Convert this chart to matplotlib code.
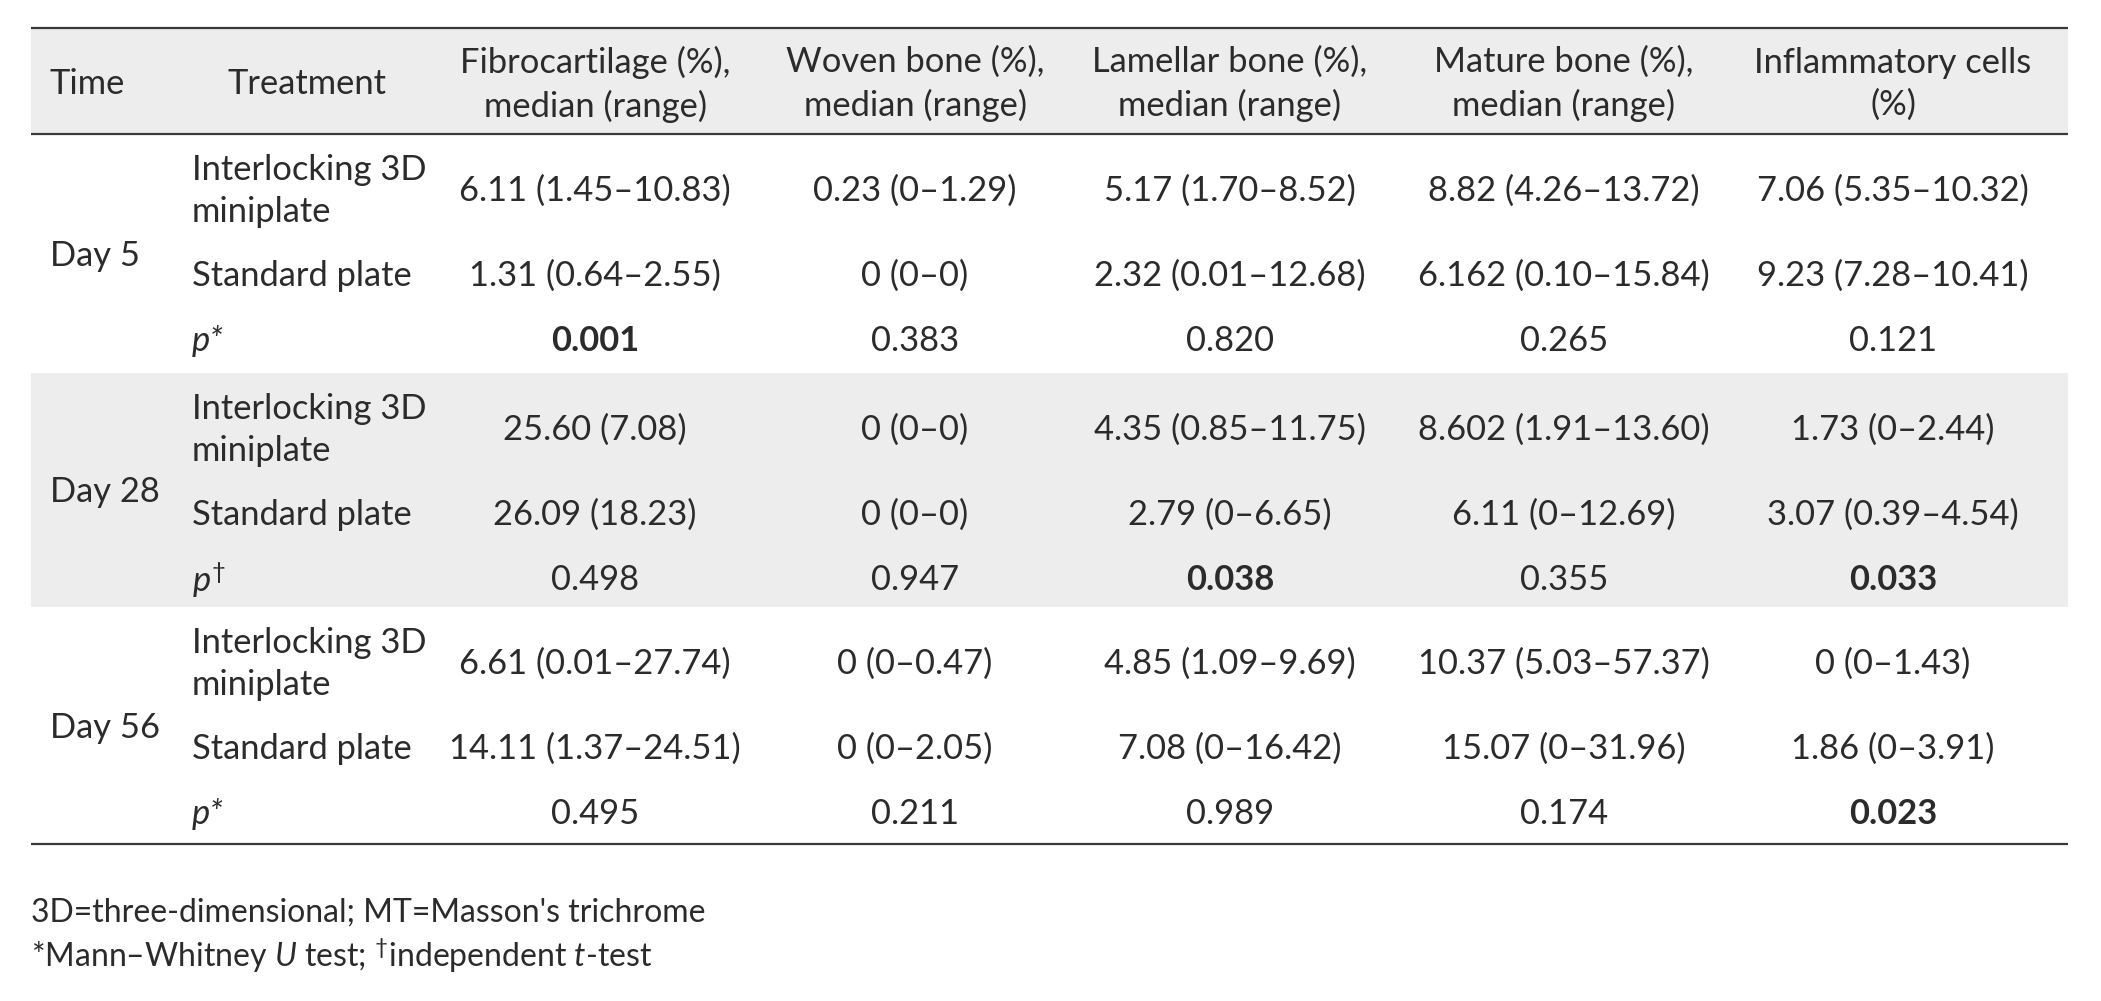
import matplotlib
matplotlib.use("Agg")
import matplotlib.pyplot as plt
from matplotlib.patches import Rectangle

# ---------------- data ----------------
headers = ["Time", "Treatment", "Fibrocartilage (%),\nmedian (range)", "Woven bone (%),\nmedian (range)",
           "Lamellar bone (%),\nmedian (range)", "Mature bone (%),\nmedian (range)", "Inflammatory cells\n(%)"]
times = ["Day 5", "Day 28", "Day 56"]
treatments = ["Interlocking 3D\nminiplate", "Standard plate"]
p_labels = ["p*", "p†", "p*"]

fibrocartilage = ["6.11 (1.45–10.83)", "1.31 (0.64–2.55)", "0.001",
                  "25.60 (7.08)", "26.09 (18.23)", "0.498",
                  "6.61 (0.01–27.74)", "14.11 (1.37–24.51)", "0.495"]
woven_bone = ["0.23 (0–1.29)", "0 (0–0)", "0.383",
              "0 (0–0)", "0 (0–0)", "0.947",
              "0 (0–0.47)", "0 (0–2.05)", "0.211"]
lamellar_bone = ["5.17 (1.70–8.52)", "2.32 (0.01–12.68)", "0.820",
                 "4.35 (0.85–11.75)", "2.79 (0–6.65)", "0.038",
                 "4.85 (1.09–9.69)", "7.08 (0–16.42)", "0.989"]
mature_bone = ["8.82 (4.26–13.72)", "6.162 (0.10–15.84)", "0.265",
               "8.602 (1.91–13.60)", "6.11 (0–12.69)", "0.355",
               "10.37 (5.03–57.37)", "15.07 (0–31.96)", "0.174"]
inflammatory = ["7.06 (5.35–10.32)", "9.23 (7.28–10.41)", "0.121",
                "1.73 (0–2.44)", "3.07 (0.39–4.54)", "0.033",
                "0 (0–1.43)", "1.86 (0–3.91)", "0.023"]
bold_cells = [(2, 0), (5, 2), (5, 4), (8, 4)]  # (row, value column)

footnote1 = "3D=three-dimensional; MT=Masson's trichrome"

# ---------------- layout ----------------
W, H = 2101, 1001
FONT = "Lato"
FS = 24.8
FS_NOTE = 23
TXT = "#2b2b2b"
RULE = "#3a3a3a"
SHADE = "#ededed"
LS = 1.4

plt.rcParams["font.family"] = [FONT, "DejaVu Sans"]
plt.rcParams["mathtext.fontset"] = "custom"
plt.rcParams["mathtext.rm"] = FONT
plt.rcParams["mathtext.it"] = FONT + ":italic"

fig = plt.figure(figsize=(W / 100, H / 100), dpi=100)
ax = fig.add_axes([0, 0, 1, 1])
ax.set_xlim(0, W)
ax.set_ylim(H, 0)
ax.axis("off")

x_left, x_right = 31, 2068
y_top, y_head = 28, 134
block_bounds = [134, 373, 607, 844]
row_centers = [57, 142, 207]   # offsets of row centres within a block
x_time = 50
x_treat = 192
x_treat_head = 307
col_centers = [595, 915, 1230, 1564, 1893]

columns = [fibrocartilage, woven_bone, lamellar_bone, mature_bone, inflammatory]

# header background
ax.add_patch(Rectangle((x_left, y_top), x_right - x_left, y_head - y_top, color=SHADE, lw=0, zorder=0))
# day 28 shading
ax.add_patch(Rectangle((x_left, block_bounds[1]), x_right - x_left, block_bounds[2] - block_bounds[1],
                       color=SHADE, lw=0, zorder=0))

# rules
for y in (y_top, y_head, block_bounds[-1]):
    ax.plot([x_left, x_right], [y, y], color=RULE, lw=1.6, solid_capstyle="butt", zorder=3)

# header text
yh = (y_top + y_head) / 2 + 3
ax.text(x_time, yh, headers[0], ha="left", va="center", fontsize=FS, color=TXT, linespacing=LS)
ax.text(x_treat_head, yh, headers[1], ha="center", va="center", fontsize=FS, color=TXT, linespacing=LS)
for cx, htxt in zip(col_centers, headers[2:]):
    ax.text(cx, yh, htxt, ha="center", va="center", fontsize=FS, color=TXT, linespacing=LS)

# body
for b, t in enumerate(times):
    top = block_bounds[b]
    bot = block_bounds[b + 1]
    ax.text(x_time, (top + bot) / 2 + 2, t, ha="left", va="center", fontsize=FS, color=TXT)
    for r in range(3):
        yc = top + row_centers[r]
        ridx = b * 3 + r
        if r < 2:
            ax.text(x_treat, yc, treatments[r], ha="left", va="center", fontsize=FS, color=TXT,
                    linespacing=LS)
        else:
            lab = p_labels[b]
            if lab.endswith("†"):
                ax.text(x_treat, yc, r"$\mathit{p}^{†}$", ha="left", va="center", fontsize=FS, color=TXT)
            else:
                ax.text(x_treat, yc, lab, ha="left", va="center", fontsize=FS, color=TXT, style="italic")
        for c, col in enumerate(columns):
            bold = (ridx, c) in bold_cells
            ax.text(col_centers[c], yc, col[ridx], ha="center", va="center", fontsize=FS, color=TXT,
                    fontweight="bold" if bold else "normal")

# footnotes
ax.text(x_left, 913, footnote1, ha="left", va="center", fontsize=FS_NOTE, color=TXT)
ax.text(x_left, 956, r"*Mann–Whitney $\mathit{U}$ test; $^{†}$independent $\mathit{t}$-test",
        ha="left", va="center", fontsize=FS_NOTE, color=TXT)

fig.savefig("out.png", dpi=100, facecolor="white")
